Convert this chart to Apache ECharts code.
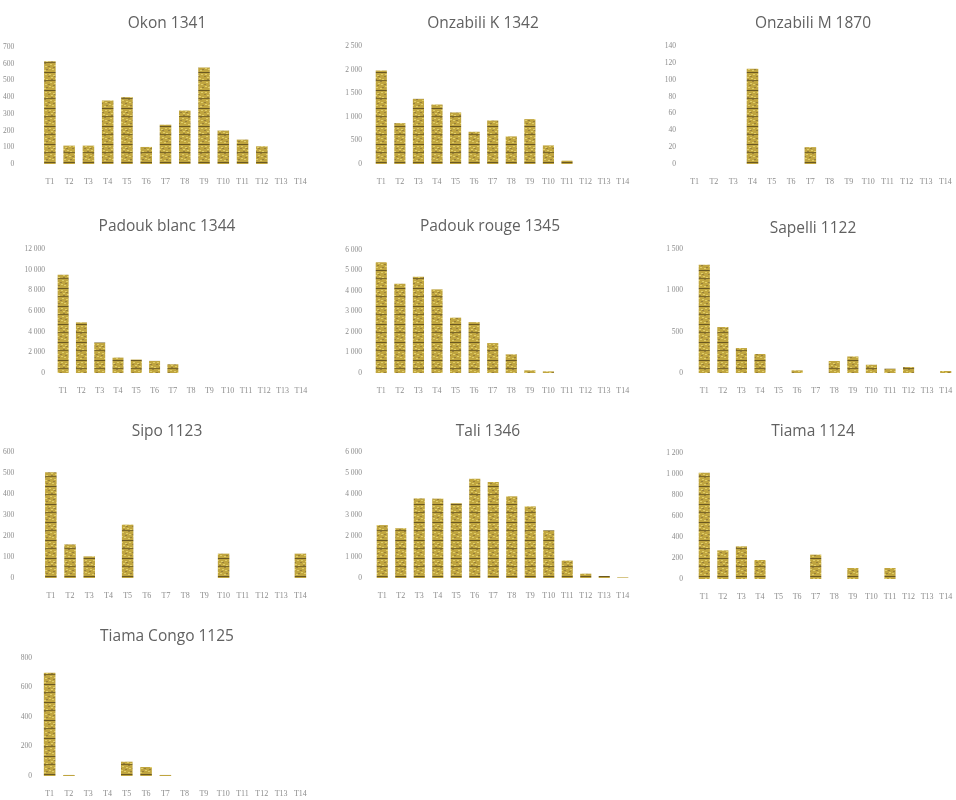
<!DOCTYPE html>
<html>
<head>
<meta charset="utf-8">
<style>
  html, body { margin: 0; padding: 0; background: #ffffff; }
  #chart { width: 956px; height: 800px; }
</style>
<script src="https://cdn.jsdelivr.net/npm/echarts@6/dist/echarts.min.js"></script>
</head>
<body>
<div id="chart"></div>
<script>
// Tree classes shared by every panel
const classes = ['T1','T2','T3','T4','T5','T6','T7','T8','T9','T10','T11','T12','T13','T14'];

// Species panel titles
const speciesNames = [
  'Okon 1341', 'Onzabili K 1342', 'Onzabili M 1870',
  'Padouk blanc 1344', 'Padouk rouge 1345', 'Sapelli 1122',
  'Sipo 1123', 'Tali 1346', 'Tiama 1124',
  'Tiama Congo 1125'
];

// Counts per class, one array per species
const okon        = [615, 110, 110, 380, 400, 102, 235, 320, 577, 200, 146, 106, 0, 0];
const onzabiliK   = [1980, 866, 1380, 1260, 1092, 683, 922, 585, 951, 394, 70, 0, 0, 0];
const onzabiliM   = [0, 0, 0, 113, 0, 0, 20, 0, 0, 0, 0, 0, 0, 0];
const padoukBlanc = [9500, 4900, 2950, 1490, 1300, 1170, 844, 0, 0, 0, 0, 0, 0, 0];
const padoukRouge = [5400, 4350, 4700, 4080, 2700, 2480, 1460, 910, 130, 80, 0, 0, 0, 0];
const sapelli     = [1310, 556, 302, 230, 0, 32, 0, 145, 200, 100, 52, 72, 0, 24];
const sipo        = [503, 160, 103, 0, 254, 0, 0, 0, 0, 116, 0, 0, 0, 116];
const tali        = [2520, 2370, 3790, 3780, 3560, 4730, 4570, 3890, 3410, 2270, 830, 206, 95, 30];
const tiama       = [1012, 273, 311, 181, 0, 0, 232, 0, 105, 0, 105, 0, 0, 0];
const tiamaCongo  = [700, 7, 0, 0, 97, 61, 7, 0, 0, 0, 0, 0, 0, 0];

const seriesValues = [okon, onzabiliK, onzabiliM, padoukBlanc, padoukRouge, sapelli, sipo, tali, tiama, tiamaCongo];

// Value axis ranges: top tick and step
const axisMax  = [700, 2500, 140, 12000, 6000, 1500, 600, 6000, 1200, 800];
const axisStep = [100, 500, 20, 2000, 1000, 500, 100, 1000, 200, 200];

// Panel plot boxes in pixels, plus the gap between value labels and plot
const boxes = [
  {left: 40,  top: 47,  width: 270, height: 117, gap: 26},
  {left: 372, top: 46,  width: 260, height: 118, gap: 10},
  {left: 685, top: 46,  width: 270, height: 118, gap: 9},
  {left: 54,  top: 249, width: 256, height: 124, gap: 9},
  {left: 372, top: 250, width: 260, height: 123, gap: 10},
  {left: 695, top: 249, width: 260, height: 124, gap: 12},
  {left: 40,  top: 452, width: 270, height: 126, gap: 27},
  {left: 373, top: 452, width: 259, height: 126, gap: 11},
  {left: 695, top: 453, width: 260, height: 126, gap: 12},
  {left: 40,  top: 658, width: 270, height: 118, gap: 8}
];
const titleCenters = [
  [162, 20], [478, 20], [808, 20],
  [162, 223], [485, 223], [808, 225],
  [162, 428], [483, 428], [808, 428],
  [162, 633]
];

// Wood-grain style fill used for the bars
function woodTexture() {
  const c = document.createElement('canvas');
  c.width = 12; c.height = 18;
  const g = c.getContext('2d');
  g.fillStyle = '#c0a53f';
  g.fillRect(0, 0, 12, 18);
  // lighter flecks
  g.fillStyle = '#e0cd68';
  const flecks = [[1,2],[5,3],[9,2],[3,5],[7,6],[10,7],[2,10],[6,11],[9,12],[1,14],[4,15],[8,16]];
  flecks.forEach(p => g.fillRect(p[0], p[1], 2, 1));
  // olive mid tones
  g.fillStyle = '#98803a';
  const mids = [[0,4],[6,4],[3,7],[8,9],[0,12],[5,13],[10,15]];
  mids.forEach(p => g.fillRect(p[0], p[1], 2, 1));
  // darker grain bands
  g.fillStyle = '#6a5822';
  g.fillRect(0, 0, 12, 1);
  g.fillStyle = '#7c6828';
  g.fillRect(0, 8, 12, 1);
  return c;
}
const texture = woodTexture();

function fmt(v) {
  return String(v).replace(/\B(?=(\d{3})+(?!\d))/g, '\u00a0');
}

const option = {
  backgroundColor: '#ffffff',
  animation: false,
  title: [],
  grid: [],
  xAxis: [],
  yAxis: [],
  series: []
};

const labelColor = '#8c8c8c';
const labelFont = 'Liberation Serif';
const titleSize = 15.5;

seriesValues.forEach((vals, i) => {
  const b = boxes[i];
  option.title.push({
    text: speciesNames[i],
    left: titleCenters[i][0],
    top: titleCenters[i][1] - titleSize * 0.62,
    textAlign: 'center',
    textStyle: { fontFamily: 'Open Sans', fontSize: titleSize, fontWeight: 'normal', color: '#616161' }
  });
  option.grid.push({ left: b.left, top: b.top, width: b.width, height: b.height, containLabel: false });
  option.xAxis.push({
    type: 'category',
    gridIndex: i,
    data: classes,
    axisLine: { show: false },
    axisTick: { show: false },
    axisLabel: { interval: 0, fontSize: 8, color: labelColor, fontFamily: labelFont, margin: 14 }
  });
  option.yAxis.push({
    type: 'value',
    gridIndex: i,
    min: 0,
    max: axisMax[i],
    interval: axisStep[i],
    splitLine: { show: false },
    axisLine: { show: false },
    axisTick: { show: false },
    axisLabel: { fontSize: 7.5, color: labelColor, fontFamily: labelFont, margin: b.gap, formatter: fmt }
  });
  option.series.push({
    type: 'bar',
    xAxisIndex: i,
    yAxisIndex: i,
    data: vals,
    barWidth: '60%',
    itemStyle: { color: { image: texture, repeat: 'repeat' } }
  });
});

const chart = echarts.init(document.getElementById('chart'), null, { renderer: 'canvas' });
chart.setOption(option);
</script>
</body>
</html>
